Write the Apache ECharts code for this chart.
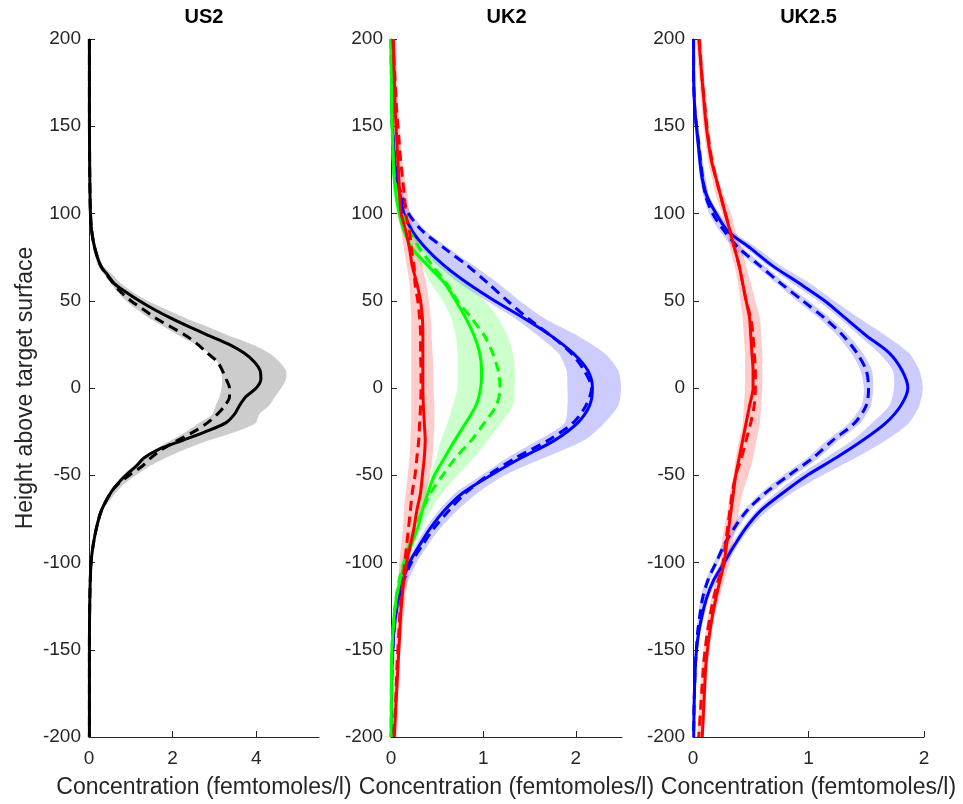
<!DOCTYPE html>
<html>
<head>
<meta charset="utf-8">
<script src="https://cdn.jsdelivr.net/npm/echarts@6/dist/echarts.min.js"></script>
<style>
html,body{margin:0;padding:0;background:#fff;}
#chart{width:963px;height:804px;}
</style>
</head>
<body>
<div id="chart"></div>
<script>
// ---------- data ----------
const panelTitles = ['US2', 'UK2', 'UK2.5'];
const xMax = [5.5, 2.5, 2];
const xTickVals = [[0, 2, 4], [0, 1, 2], [0, 1, 2]];
const xName = 'Concentration (femtomoles/l)';
const yName = 'Height above target surface';

// US2 heights
const us2H = [200,160,130,110,100,90,80,70,65,60,55,50,45,40,35,30,25,20,15,10,5,0,-5,-10,-15,-20,-25,-30,-35,-40,-45,-50,-55,-60,-70,-80,-90,-100,-120,-150,-200];
const us2Solid = [0.01,0.01,0.015,0.025,0.035,0.064,0.14,0.28,0.44,0.6,0.88,1.2,1.56,1.96,2.4,2.87,3.35,3.71,3.95,4.09,4.11,4.0,3.75,3.6,3.48,3.27,2.79,2.24,1.68,1.32,1.12,0.88,0.68,0.52,0.3,0.18,0.1,0.05,0.02,0.01,0.01];
const us2Dash = [0.01,0.01,0.015,0.025,0.035,0.064,0.14,0.28,0.42,0.58,0.76,1.0,1.3,1.6,1.96,2.32,2.6,2.83,3.07,3.19,3.28,3.36,3.36,3.25,3.07,2.83,2.51,2.12,1.76,1.48,1.26,0.96,0.7,0.52,0.3,0.18,0.1,0.05,0.02,0.01,0.01];
const us2Lo = [0,0,0,0.01,0.02,0.04,0.1,0.22,0.36,0.52,0.68,0.88,1.15,1.44,1.8,2.16,2.55,2.87,3.07,3.15,3.18,3.17,3.12,3.03,2.95,2.63,2.32,1.96,1.6,1.28,1.04,0.8,0.64,0.48,0.26,0.15,0.08,0.03,0.005,0,0];
const us2Hi = [0.03,0.03,0.04,0.05,0.06,0.09,0.18,0.34,0.56,0.76,1.04,1.4,1.85,2.32,2.85,3.35,3.91,4.31,4.55,4.71,4.71,4.6,4.45,4.31,4.07,3.99,3.51,2.87,2.32,1.84,1.44,1.12,0.84,0.64,0.34,0.21,0.12,0.07,0.035,0.03,0.03];

// common heights for UK panels
const ukH = [200,180,160,150,140,130,120,110,100,90,80,70,60,50,40,30,20,10,0,-10,-20,-30,-40,-50,-60,-70,-80,-90,-100,-110,-120,-130,-140,-150,-160,-180,-200];

// UK2
const uk2BlueSolid = [0.003,0.005,0.01,0.015,0.025,0.04,0.06,0.1,0.14,0.23,0.38,0.58,0.83,1.12,1.44,1.73,1.97,2.13,2.18,2.15,2.02,1.77,1.41,1.08,0.78,0.58,0.43,0.31,0.2,0.13,0.08,0.05,0.03,0.02,0.01,0.006,0.004];
const uk2BlueDash = [0.003,0.005,0.01,0.015,0.025,0.04,0.06,0.12,0.19,0.34,0.58,0.83,1.05,1.26,1.48,1.73,1.95,2.09,2.17,2.11,1.97,1.7,1.35,1.05,0.81,0.63,0.47,0.34,0.22,0.14,0.085,0.05,0.03,0.02,0.01,0.006,0.004];
const uk2BlueLo = [0,0,0,0,0.005,0.015,0.03,0.06,0.1,0.2,0.33,0.51,0.74,1.03,1.34,1.59,1.81,1.9,1.91,1.91,1.88,1.59,1.26,0.98,0.7,0.52,0.38,0.27,0.18,0.11,0.06,0.035,0.02,0.01,0,0,0];
const uk2BlueHi = [0.02,0.025,0.03,0.04,0.05,0.07,0.09,0.14,0.22,0.38,0.63,0.9,1.16,1.39,1.66,2.02,2.31,2.46,2.49,2.46,2.31,2.09,1.66,1.23,0.94,0.72,0.54,0.4,0.28,0.19,0.12,0.08,0.05,0.035,0.025,0.02,0.015];
const uk2GreenSolid = [0.002,0.004,0.008,0.012,0.018,0.025,0.035,0.055,0.09,0.14,0.23,0.4,0.58,0.7,0.81,0.9,0.96,0.98,0.97,0.92,0.81,0.69,0.58,0.47,0.4,0.34,0.29,0.22,0.15,0.1,0.06,0.035,0.02,0.01,0.005,0.003,0.002];
const uk2GreenDash = [0.002,0.004,0.008,0.012,0.018,0.025,0.04,0.07,0.12,0.2,0.31,0.45,0.6,0.72,0.87,1.01,1.1,1.16,1.18,1.14,1.01,0.87,0.7,0.56,0.43,0.34,0.27,0.2,0.14,0.09,0.055,0.035,0.02,0.01,0.005,0.003,0.002];
const uk2GreenLo = [0,0,0,0,0.003,0.008,0.015,0.03,0.06,0.13,0.2,0.33,0.43,0.56,0.65,0.7,0.72,0.72,0.72,0.67,0.61,0.54,0.49,0.42,0.34,0.27,0.22,0.16,0.11,0.07,0.04,0.02,0.01,0,0,0,0];
const uk2GreenHi = [0.01,0.015,0.02,0.03,0.04,0.05,0.065,0.1,0.16,0.25,0.4,0.58,0.81,1.01,1.16,1.26,1.32,1.34,1.34,1.32,1.19,1.05,0.9,0.72,0.56,0.43,0.34,0.25,0.18,0.12,0.08,0.05,0.035,0.025,0.02,0.015,0.01];
const uk2RedSolid = [0.025,0.035,0.045,0.055,0.065,0.075,0.085,0.095,0.11,0.16,0.2,0.23,0.28,0.32,0.34,0.345,0.345,0.345,0.345,0.35,0.36,0.37,0.36,0.34,0.32,0.28,0.25,0.21,0.17,0.14,0.12,0.105,0.095,0.085,0.075,0.055,0.035];
const uk2RedDash = [0.02,0.04,0.06,0.075,0.09,0.105,0.125,0.145,0.16,0.2,0.22,0.25,0.26,0.29,0.31,0.32,0.32,0.325,0.325,0.32,0.31,0.3,0.28,0.26,0.23,0.21,0.19,0.17,0.15,0.13,0.11,0.095,0.085,0.075,0.065,0.05,0.03];
const uk2RedLo = [0,0.005,0.015,0.02,0.03,0.04,0.05,0.06,0.07,0.11,0.14,0.17,0.2,0.21,0.22,0.22,0.22,0.22,0.22,0.22,0.22,0.21,0.2,0.18,0.16,0.14,0.13,0.11,0.09,0.08,0.07,0.06,0.055,0.05,0.04,0.02,0];
const uk2RedHi = [0.05,0.065,0.08,0.095,0.11,0.125,0.15,0.18,0.2,0.25,0.31,0.34,0.38,0.41,0.43,0.44,0.45,0.46,0.46,0.47,0.47,0.46,0.45,0.42,0.38,0.33,0.27,0.23,0.2,0.18,0.16,0.14,0.12,0.1,0.09,0.075,0.06];

// UK2.5
const uk25BlueSolid = [0.005,0.005,0.015,0.03,0.045,0.06,0.08,0.12,0.2,0.3,0.5,0.69,0.92,1.14,1.32,1.5,1.7,1.81,1.86,1.8,1.67,1.47,1.24,0.99,0.78,0.59,0.46,0.36,0.27,0.18,0.12,0.08,0.05,0.03,0.02,0.01,0.006];
const uk25BlueDash = [0.005,0.005,0.015,0.03,0.05,0.065,0.085,0.11,0.17,0.27,0.4,0.58,0.76,0.95,1.14,1.3,1.42,1.5,1.52,1.5,1.4,1.21,1.04,0.83,0.63,0.47,0.36,0.27,0.2,0.13,0.085,0.06,0.04,0.03,0.02,0.01,0.005];
const uk25BlueLo = [0,0,0.005,0.015,0.03,0.045,0.065,0.1,0.18,0.28,0.46,0.65,0.86,1.08,1.27,1.44,1.61,1.73,1.74,1.7,1.55,1.38,1.15,0.92,0.72,0.55,0.43,0.33,0.24,0.16,0.1,0.065,0.04,0.02,0.01,0,0];
const uk25BlueHi = [0.015,0.02,0.03,0.045,0.06,0.08,0.1,0.14,0.23,0.34,0.56,0.76,1.01,1.22,1.44,1.67,1.87,1.96,1.99,1.96,1.87,1.67,1.41,1.12,0.86,0.65,0.5,0.39,0.3,0.21,0.14,0.1,0.065,0.045,0.03,0.02,0.015];
const uk25BlueDLo = [0,0,0.005,0.015,0.03,0.045,0.06,0.09,0.14,0.23,0.36,0.54,0.72,0.9,1.09,1.25,1.37,1.45,1.48,1.46,1.35,1.16,0.99,0.78,0.59,0.44,0.33,0.25,0.18,0.11,0.065,0.045,0.03,0.02,0.01,0,0];
const uk25BlueDHi = [0.015,0.02,0.03,0.045,0.065,0.085,0.11,0.14,0.21,0.31,0.44,0.62,0.8,1.0,1.19,1.35,1.47,1.55,1.56,1.54,1.45,1.26,1.09,0.88,0.67,0.5,0.39,0.3,0.22,0.15,0.105,0.075,0.055,0.04,0.03,0.02,0.015];
const uk25RedSolid = [0.05,0.075,0.1,0.115,0.135,0.16,0.2,0.24,0.28,0.32,0.36,0.4,0.43,0.46,0.49,0.5,0.51,0.52,0.52,0.49,0.46,0.43,0.4,0.37,0.35,0.33,0.31,0.29,0.27,0.235,0.2,0.17,0.145,0.125,0.11,0.095,0.08];
const uk25RedDash = [0.055,0.075,0.105,0.12,0.14,0.165,0.2,0.24,0.28,0.32,0.36,0.4,0.43,0.46,0.5,0.52,0.53,0.54,0.54,0.53,0.5,0.46,0.42,0.37,0.34,0.32,0.3,0.28,0.26,0.22,0.18,0.15,0.125,0.105,0.09,0.07,0.05];
const uk25RedLo = [0.03,0.05,0.075,0.09,0.11,0.13,0.165,0.2,0.25,0.29,0.32,0.36,0.39,0.41,0.43,0.44,0.45,0.45,0.45,0.44,0.43,0.4,0.37,0.35,0.32,0.3,0.27,0.25,0.24,0.2,0.16,0.13,0.11,0.09,0.075,0.055,0.04];
const uk25RedHi = [0.07,0.095,0.125,0.14,0.16,0.185,0.22,0.27,0.33,0.37,0.42,0.46,0.5,0.54,0.58,0.59,0.6,0.6,0.6,0.59,0.58,0.55,0.52,0.48,0.43,0.4,0.37,0.34,0.32,0.27,0.23,0.19,0.165,0.145,0.13,0.11,0.09];

// ---------- helpers ----------
const TXT = '#262626';
const FONT = '"Liberation Sans", Arial, Helvetica, sans-serif';

function band(g, h, lo, hi, color) {
  return {
    type: 'custom', xAxisIndex: g, yAxisIndex: g, clip: true, silent: true, z: 1,
    data: h.map((v, i) => [lo[i], v, hi[i]]),
    encode: { x: [0, 2], y: 1 },
    renderItem: function (params, api) {
      if (params.dataIndex !== 0) return null;
      const pts = [];
      for (let i = 0; i < h.length; i++) pts.push(api.coord([lo[i], h[i]]));
      for (let i = h.length - 1; i >= 0; i--) pts.push(api.coord([hi[i], h[i]]));
      return { type: 'polygon', shape: { points: pts, smooth: 0.25 }, style: { fill: color, opacity: 0.2 } };
    }
  };
}
function line(g, h, vals, color, dashed, z) {
  return {
    type: 'line', xAxisIndex: g, yAxisIndex: g, z: z,
    data: h.map((v, i) => [vals[i], v]),
    showSymbol: false, symbol: 'none', smooth: 0.3, clip: true,
    lineStyle: { color: color, width: 3, type: dashed ? [10, 6] : 'solid', cap: 'butt' }
  };
}

const lefts = [89, 391, 693];
const widths = [230, 231, 231];

const grids = lefts.map((l, i) => ({ left: l, top: 39, width: widths[i], height: 702 }));
const xAxes = lefts.map((l, i) => ({
  type: 'value', gridIndex: i, min: 0, max: xMax[i],
  axisLine: { show: true, onZero: false, lineStyle: { color: TXT, width: 1 } },
  axisTick: { show: true, inside: true, length: 6, customValues: xTickVals[i], lineStyle: { color: TXT } },
  axisLabel: { customValues: xTickVals[i], fontSize: 19, color: TXT, margin: 12, fontFamily: FONT },
  splitLine: { show: false },
  name: xName, nameLocation: 'middle', nameGap: 39,
  nameTextStyle: { fontSize: 23, color: TXT, fontFamily: FONT }
}));
const yAxes = lefts.map((l, i) => ({
  type: 'value', gridIndex: i, min: -200, max: 200, interval: 50,
  axisLine: { show: true, onZero: false, lineStyle: { color: TXT, width: 1 } },
  axisTick: { show: true, inside: true, length: 6, lineStyle: { color: TXT } },
  axisLabel: { fontSize: 19, color: TXT, margin: 8, fontFamily: FONT },
  splitLine: { show: false },
  name: i === 0 ? yName : '', nameLocation: 'middle', nameGap: 52, nameRotate: 90,
  nameTextStyle: { fontSize: 23, color: TXT, fontFamily: FONT }
}));
const titles = panelTitles.map((t, i) => ({
  text: t, left: lefts[i] + widths[i] / 2, top: 7, textAlign: 'center', padding: 0,
  textStyle: { fontSize: 20, fontWeight: 'bold', color: '#000', fontFamily: FONT }
}));

const series = [
  band(0, us2H, us2Lo, us2Hi, '#000000'),
  line(0, us2H, us2Dash, '#000000', true, 3),
  line(0, us2H, us2Solid, '#000000', false, 4),

  band(1, ukH, uk2BlueLo, uk2BlueHi, '#0000ff'),
  band(1, ukH, uk2GreenLo, uk2GreenHi, '#00ff00'),
  band(1, ukH, uk2RedLo, uk2RedHi, '#ff0000'),
  line(1, ukH, uk2BlueDash, '#0000ff', true, 3),
  line(1, ukH, uk2BlueSolid, '#0000ff', false, 4),
  line(1, ukH, uk2GreenDash, '#00ff00', true, 5),
  line(1, ukH, uk2GreenSolid, '#00ff00', false, 6),
  line(1, ukH, uk2RedDash, '#ff0000', true, 7),
  line(1, ukH, uk2RedSolid, '#ff0000', false, 8),

  band(2, ukH, uk25BlueLo, uk25BlueHi, '#0000ff'),
  band(2, ukH, uk25BlueDLo, uk25BlueDHi, '#0000ff'),
  band(2, ukH, uk25RedLo, uk25RedHi, '#ff0000'),
  line(2, ukH, uk25BlueDash, '#0000ff', true, 3),
  line(2, ukH, uk25BlueSolid, '#0000ff', false, 4),
  line(2, ukH, uk25RedDash, '#ff0000', true, 5),
  line(2, ukH, uk25RedSolid, '#ff0000', false, 6)
];

const chart = echarts.init(document.getElementById('chart'), null, { renderer: 'canvas' });
chart.setOption({
  animation: false,
  backgroundColor: '#ffffff',
  textStyle: { fontFamily: FONT },
  title: titles,
  grid: grids,
  xAxis: xAxes,
  yAxis: yAxes,
  series: series
});
</script>
</body>
</html>
